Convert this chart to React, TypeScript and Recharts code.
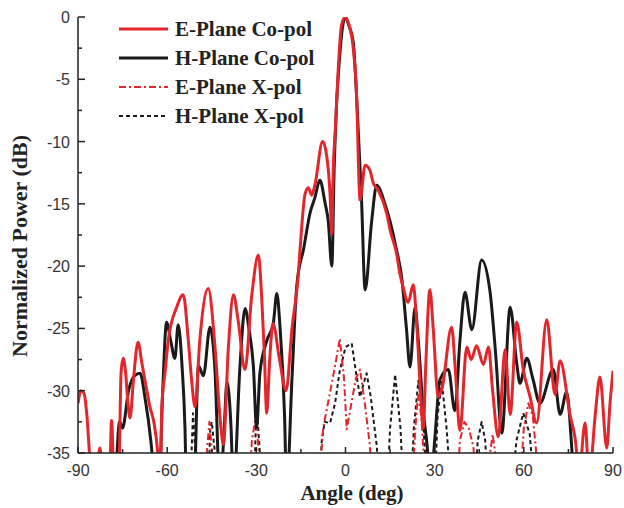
import React from 'react';
import { LineChart, Line, XAxis, YAxis } from 'recharts';

// angle (deg) / normalized power (dB); values below -35 drop off the plot floor
const eCoAngles = [-90, -89, -88, -87, -86, -85, -83.5, -82.6, -81.5, -79.5, -78.7, -77.8, -76.3, -75.5, -74.8, -74, -73.2, -72.5, -71.3, -69.8, -68.5, -66.9, -65.8, -64.5, -63, -62.4, -61.8, -60.7, -59.6, -56.8, -54.6, -52.9, -51.8, -50.6, -49, -46.2, -43.9, -42.2, -41.1, -39.4, -37.7, -36.1, -33.8, -31.6, -29.3, -28.2, -27.3, -26.5, -25.5, -24.4, -22.2, -20, -18, -16, -15.3, -13.6, -12.5, -11.4, -10.3, -7.7, -6.3, -5.2, -4.6, -4.1, -3.5, -2.4, -1.3, 0, 1, 2.6, 3.8, 4.6, 4.9, 6.6, 8.2, 9.3, 11, 13.9, 15, 17.2, 18.3, 19.4, 21.1, 22.8, 23.8, 25, 26.2, 27, 28.4, 29.5, 31.2, 32.5, 35.7, 37, 38.5, 40.8, 42.3, 44.1, 46.4, 48.1, 49.5, 51.4, 53.7, 55.4, 57.6, 59.8, 62.1, 64.3, 67.7, 70.5, 72.2, 75.5, 77.6, 78.5, 80.6, 82, 84, 85.6, 87.9, 89, 90];
const eCoValues = [-31, -30, -30.2, -32, -35.5, -38, -36, -34.6, -38, -38, -32.4, -38, -37, -28.5, -27.4, -28.5, -31, -32.2, -29, -26.1, -27.8, -29.9, -31.3, -32.5, -35.5, -38, -31.3, -28.5, -25.9, -23.3, -22.3, -25.9, -29.1, -31.3, -25.9, -21.8, -26.5, -32.2, -34.3, -26.5, -22.3, -24.4, -28.3, -22.5, -19.1, -22.5, -27, -31.8, -27.5, -24.6, -27.5, -30, -25, -21, -18.7, -14.2, -13.7, -14.3, -13.5, -10, -11.2, -14.2, -17.4, -12, -9.4, -4, -0.6, 0, -0.5, -2.5, -6.7, -13.6, -14.7, -11.9, -12.3, -13.3, -13.9, -15.8, -17.1, -19, -20.6, -21.7, -22.9, -21.5, -24, -29.1, -33, -28, -21.9, -25, -30.5, -29.8, -24.9, -28.5, -33.2, -26.5, -27.5, -26.4, -27.9, -26.5, -30, -33.7, -26.7, -31.9, -24.5, -28.3, -30.5, -32.6, -24.3, -30.3, -27.6, -31.9, -34.5, -37, -32.6, -37, -32, -28.9, -34.6, -31, -28.4];

const hCoAngles = [-90, -78, -77.5, -76, -75, -73, -71, -69.1, -67.5, -65.5, -64, -63, -61.5, -60.2, -58.8, -57.4, -56.3, -55, -54, -53.5, -51, -49.5, -47.8, -45.6, -44, -42.2, -40.8, -39.9, -38.5, -37.7, -35.5, -33.8, -32.5, -31, -29.9, -28.8, -26.5, -24.3, -23.1, -22, -20.5, -19.8, -18, -16.4, -14, -11.9, -10.3, -8.6, -6.9, -5.8, -4.6, -3.8, -3, -2, -1, 0, 1, 2.6, 3.8, 5.4, 6.6, 8.8, 10.5, 11.5, 13, 15, 17, 19, 20.5, 21.7, 23.4, 24.5, 26.2, 27.5, 28.5, 30, 31.8, 34.6, 36.8, 38.5, 40.2, 42.5, 45.8, 48.6, 50.5, 52.6, 55.4, 57.6, 58.7, 61, 63, 65.4, 69.9, 72.2, 74.4, 76.1, 77, 90];
const hCoValues = [-40, -40, -38, -32.5, -33, -30, -28.8, -28.6, -30.5, -34, -38, -40, -30, -24.5, -26, -27.4, -24.7, -28, -33, -38, -38, -28, -28.8, -24.9, -28, -38, -33, -29.3, -33, -38, -28, -23.4, -25, -28, -33, -28.6, -26, -24.6, -22.2, -25, -32, -38, -29, -21.6, -18.5, -15.7, -14.5, -13.1, -14.9, -16.4, -20, -12, -7, -3.3, -0.8, 0, -0.6, -2, -6.7, -14.7, -21.9, -16.4, -13.5, -13.8, -14.8, -16.4, -18.5, -21.1, -25, -28.1, -23.3, -26, -31.8, -34.5, -38, -34, -29.1, -28.3, -31.6, -26, -22.1, -25.1, -19.5, -22, -27, -33.4, -23.3, -27.8, -29.4, -27.4, -29, -31, -28.3, -31.9, -30.1, -34.5, -38, -40];

const eXAngles = [-90, -50, -47, -45.8, -44.5, -43, -33, -31.5, -30, -29, -28, -10, -8.5, -7.5, -5.5, -3.5, -1.9, -0.5, 0.4, 2, 3.5, 4.9, 6.5, 8.2, 9, 14.5, 15.5, 16.5, 22, 23.5, 24.4, 25.5, 26.5, 28, 37, 38.5, 40, 41.5, 43, 44, 47, 49.5, 51, 58, 60, 61.5, 63, 64, 65.5, 90];
const eXValues = [-40, -40, -36, -32.5, -36, -40, -40, -34, -31.8, -36, -40, -40, -36, -33, -30.5, -28, -25.8, -29, -33.1, -31, -29, -28.3, -31, -34.4, -38, -38, -35, -38, -40, -33, -30.3, -32, -36, -40, -40, -34, -32.5, -33, -34.5, -37, -38, -33.5, -36, -40, -33, -31, -32, -34.5, -40, -40];

const hXAngles = [-90, -53, -51.8, -51.3, -50.5, -49.5, -46.5, -45.5, -45, -43.5, -42.5, -31, -30.2, -29.5, -28.8, -28, -9, -8, -7, -5.2, -3.5, -2, 0, 2.1, 3.5, 4.9, 6, 7.1, 8.5, 10.5, 11.5, 14, 15, 16.7, 18.5, 19.5, 22, 23, 24.5, 26, 27.5, 30, 31, 32.4, 34, 35.5, 43.5, 44.5, 45.8, 47, 48, 56, 57.5, 59.8, 62, 63.5, 90];
const hXValues = [-40, -40, -35, -31.8, -35, -40, -40, -33, -32.5, -36, -40, -40, -33, -32.5, -35, -40, -40, -34, -32.5, -32.6, -31, -28.5, -26.5, -26.2, -28.5, -30.5, -29.5, -28.6, -30.5, -34.4, -38, -38, -33, -28.7, -33, -38, -38, -33, -29.2, -32, -38, -38, -32, -29.2, -33, -38, -38, -34, -32.5, -34, -38, -38, -34, -31.8, -33.5, -38, -40];

const xTicks = [-90, -75, -60, -45, -30, -15, 0, 15, 30, 45, 60, 75, 90];
const yTicks = [-35, -32.5, -30, -27.5, -25, -22.5, -20, -17.5, -15, -12.5, -10, -7.5, -5, -2.5, 0];

const legendLabels = ['E-Plane Co-pol', 'H-Plane Co-pol', 'E-Plane X-pol', 'H-Plane X-pol'];

const RED = '#e3262b';
const BLACK = '#1a1a1a';
const SERIF = '"Liberation Serif", "Times New Roman", serif';
const SANS = '"Liberation Sans", Arial, sans-serif';

const toPoints = (angles: number[], values: number[]) =>
  angles.map((a, i) => ({ angle: a, db: values[i] }));

const series = [
  { name: legendLabels[0], data: toPoints(eCoAngles, eCoValues), color: RED, width: 3, dash: undefined },
  { name: legendLabels[1], data: toPoints(hCoAngles, hCoValues), color: BLACK, width: 3, dash: undefined },
  { name: legendLabels[2], data: toPoints(eXAngles, eXValues), color: RED, width: 2, dash: '7 3 2 3' },
  { name: legendLabels[3], data: toPoints(hXAngles, hXValues), color: BLACK, width: 2, dash: '4 3' },
];

// paint order: cross-pol underneath, red co-pol on top
const drawOrder = [3, 2, 1, 0];

const XTick = (props: any) => {
  const { x, y, payload } = props;
  const major = payload.value % 30 === 0;
  return (
    <g>
      <line x1={x} x2={x} y1={y} y2={y - (major ? 6 : 4)} stroke="#222" strokeWidth={1.5} />
      {major && (
        <text x={x} y={y + 23} textAnchor="middle" fontSize={16} fontFamily={SANS} fill="#333">
          {payload.value}
        </text>
      )}
    </g>
  );
};

const YTick = (props: any) => {
  const { x, y, payload } = props;
  const axisX = x + 8;
  const major = payload.value % 5 === 0;
  return (
    <g>
      <line x1={axisX} x2={axisX + (major ? 7 : 4)} y1={y} y2={y} stroke="#222" strokeWidth={1.5} />
      {major && (
        <text x={x} y={y + 6} textAnchor="end" fontSize={16} fontFamily={SANS} fill="#333">
          {payload.value}
        </text>
      )}
    </g>
  );
};

export default function App() {
  return (
    <div style={{ position: 'absolute', left: 0, top: 0, width: 624, height: 508, background: '#fff' }}>
      <LineChart width={624} height={508} margin={{ top: 17, right: 11, left: 0, bottom: 0 }}>
        <XAxis
          type="number"
          dataKey="angle"
          domain={[-90, 90]}
          ticks={xTicks}
          interval={0}
          allowDataOverflow
          height={55}
          tickSize={0}
          tickMargin={0}
          tickLine={false}
          axisLine={{ stroke: '#222', strokeWidth: 1.5 }}
          tick={<XTick />}
        />
        <YAxis
          type="number"
          domain={[-35, 0]}
          ticks={yTicks}
          interval={0}
          allowDataOverflow
          width={78}
          tickSize={0}
          tickMargin={8}
          tickLine={false}
          axisLine={{ stroke: '#222', strokeWidth: 1.5 }}
          tick={<YTick />}
        />
        {drawOrder.map((idx) => {
          const s = series[idx];
          return (
            <Line
              key={s.name}
              data={s.data}
              dataKey="db"
              name={s.name}
              type={s.dash ? 'linear' : 'monotoneX'}
              stroke={s.color}
              strokeWidth={s.width}
              strokeDasharray={s.dash}
              strokeLinejoin="round"
              dot={false}
              activeDot={false}
              isAnimationActive={false}
            />
          );
        })}
      </LineChart>
      <svg width={624} height={508} style={{ position: 'absolute', left: 0, top: 0, pointerEvents: 'none' }}>
        {series.map((s, i) => {
          const y = 29 + i * 29;
          return (
            <g key={s.name}>
              <line x1={119} x2={168} y1={y} y2={y} stroke={s.color} strokeWidth={s.width} strokeDasharray={s.dash} />
              <text x={175} y={y + 7} fontSize={21} fontWeight="bold" fontFamily={SERIF} fill="#222">
                {s.name}
              </text>
            </g>
          );
        })}
        <text x={352} y={500} textAnchor="middle" fontSize={21} fontWeight="bold" fontFamily={SERIF} fill="#222">
          Angle (deg)
        </text>
        <text
          transform="translate(27 246) rotate(-90)"
          textAnchor="middle"
          fontSize={22}
          fontWeight="bold"
          fontFamily={SERIF}
          fill="#222"
        >
          Normalized Power (dB)
        </text>
      </svg>
    </div>
  );
}
